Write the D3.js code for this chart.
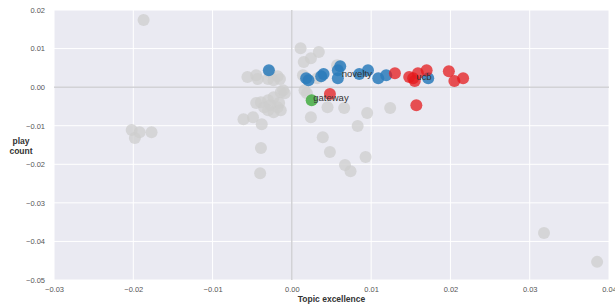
<!DOCTYPE html>
<html>
<head>
<meta charset="utf-8">
<script src="https://cdn.jsdelivr.net/npm/d3@7"></script>
<style>
  body { margin: 0; background: #fff; }
  text { font-family: "Liberation Sans", Arial, sans-serif; }
</style>
</head>
<body>
<script>
// [topic excellence, play count]
var grayPoints = [
  [-0.0187, 0.0174], [-0.0202, -0.0111], [-0.0192, -0.0117], [-0.0198, -0.0132], [-0.0177, -0.0117],
  [-0.0056, 0.0026], [-0.0045, 0.0031], [-0.0043, 0.0021], [-0.0030, 0.0021], [-0.0018, 0.0028],
  [-0.0015, 0.0021], [-0.0023, 0.0018], [-0.0028, 0.0039], [-0.0011, -0.0008], [-0.0009, -0.0016],
  [-0.0014, -0.0013], [-0.0023, -0.0026], [-0.0030, -0.0034], [-0.0039, -0.0039], [-0.0045, -0.0041],
  [-0.0035, -0.0052], [-0.0027, -0.0047], [-0.0018, -0.0052], [-0.0016, -0.0041], [-0.0023, -0.0065],
  [-0.0014, -0.0060], [-0.0030, -0.0060], [-0.0061, -0.0083], [-0.0049, -0.0078], [-0.0038, -0.0096],
  [-0.0039, -0.0158], [-0.0040, -0.0223], [0.0011, 0.0101], [0.0034, 0.0091], [0.0024, 0.0075],
  [0.0015, 0.0065], [0.0057, 0.0057], [0.0014, 0.0031], [0.0032, 0.0023], [0.0016, -0.0008],
  [0.0019, -0.0016], [0.0045, -0.0052], [0.0066, -0.0054], [0.0024, -0.0078], [0.0095, -0.0067],
  [0.0124, -0.0054], [0.0083, -0.0101], [0.0039, -0.0130], [0.0048, -0.0168], [0.0093, -0.0181],
  [0.0067, -0.0202], [0.0074, -0.0218], [0.0318, -0.0378], [0.0385, -0.0453]
];
var noveltyPoints = [
  [-0.0029, 0.0044], [0.0018, 0.0023], [0.0021, 0.0018], [0.0037, 0.0028], [0.0040, 0.0034],
  [0.0058, 0.0044], [0.0061, 0.0054], [0.0058, 0.0023], [0.0085, 0.0034], [0.0096, 0.0044],
  [0.0109, 0.0023], [0.0119, 0.0031], [0.0172, 0.0023]
];
var ucbPoints = [
  [0.0048, -0.0018], [0.0130, 0.0036], [0.0148, 0.0026], [0.0153, 0.0023], [0.0155, 0.0016],
  [0.0159, 0.0036], [0.0170, 0.0044], [0.0198, 0.0041], [0.0205, 0.0016], [0.0216, 0.0023],
  [0.0157, -0.0047]
];
var gatewayPoints = [[0.0025, -0.0034]];

var labels = [
  {text: "novelty", x: 0.0063, y: 0.0036},
  {text: "ucb", x: 0.0157, y: 0.0026},
  {text: "gateway", x: 0.0027, y: -0.0028}
];

var xTicks = [-0.03, -0.02, -0.01, 0.00, 0.01, 0.02, 0.03, 0.04];
var yTicks = [0.02, 0.01, 0.00, -0.01, -0.02, -0.03, -0.04, -0.05];

var width = 615, height = 305;
var margin = {top: 10, right: 6, bottom: 25, left: 54};

var svg = d3.select("body").append("svg").attr("width", width).attr("height", height);

var x = d3.scaleLinear().domain([-0.03, 0.04]).range([margin.left, width - margin.right]);
var y = d3.scaleLinear().domain([-0.05, 0.02]).range([height - margin.bottom, margin.top]);

var fmt = function(d){ return d3.format(".2f")(d).replace("-", "\u2212"); };

svg.append("rect")
   .attr("x", x(-0.03)).attr("y", y(0.02))
   .attr("width", x(0.04) - x(-0.03)).attr("height", y(-0.05) - y(0.02))
   .attr("fill", "#eaeaf2");

// grid
svg.selectAll("line.vgrid").data(xTicks).enter().append("line")
   .attr("class", "vgrid")
   .attr("x1", function(d){ return x(d); }).attr("x2", function(d){ return x(d); })
   .attr("y1", y(0.02)).attr("y2", y(-0.05))
   .attr("stroke", "#fff").attr("stroke-width", 1);
svg.selectAll("line.hgrid").data(yTicks).enter().append("line")
   .attr("class", "hgrid")
   .attr("y1", function(d){ return y(d); }).attr("y2", function(d){ return y(d); })
   .attr("x1", x(-0.03)).attr("x2", x(0.04))
   .attr("stroke", "#fff").attr("stroke-width", 1);

// zero lines
svg.append("line").attr("x1", x(0)).attr("x2", x(0)).attr("y1", y(0.02)).attr("y2", y(-0.05))
   .attr("stroke", "#bdbdc2").attr("stroke-width", 1);
svg.append("line").attr("y1", y(0)).attr("y2", y(0)).attr("x1", x(-0.03)).attr("x2", x(0.04))
   .attr("stroke", "#bdbdc2").attr("stroke-width", 1);

// axes
var xAxis = svg.append("g").attr("transform", "translate(0," + (height - margin.bottom) + ")")
   .call(d3.axisBottom(x).tickValues(xTicks).tickFormat(fmt).tickSize(0).tickPadding(7));
var yAxis = svg.append("g").attr("transform", "translate(" + margin.left + ",0)")
   .call(d3.axisLeft(y).tickValues(yTicks).tickFormat(fmt).tickSize(0).tickPadding(9));
[xAxis, yAxis].forEach(function(a){
  a.select(".domain").remove();
  a.selectAll("text").attr("fill", "#555").style("font-size", "7.5px")
   .style("font-family", "'Liberation Sans', Arial, sans-serif");
});

function dots(data, cls, fill, op){
  svg.selectAll("circle." + cls).data(data).enter().append("circle")
     .attr("class", cls)
     .attr("cx", function(d){ return x(d[0]); })
     .attr("cy", function(d){ return y(d[1]); })
     .attr("r", 6)
     .attr("fill", fill)
     .attr("fill-opacity", op);
}
dots(grayPoints, "gray", "#cdcdcd", 0.75);
dots(noveltyPoints, "novelty", "#2a7bbb", 0.85);
dots(ucbPoints, "ucb", "#e41a1c", 0.75);
dots(gatewayPoints, "gateway", "#4daf4a", 0.9);

svg.selectAll("text.lbl").data(labels).enter().append("text")
   .attr("class", "lbl")
   .attr("x", function(d){ return x(d.x); })
   .attr("y", function(d){ return y(d.y); })
   .attr("dy", "0.35em")
   .attr("fill", "#333")
   .style("font-size", "9.5px")
   .text(function(d){ return d.text; });

svg.append("text")
   .attr("x", (x(-0.03) + x(0.04)) / 2).attr("y", 302)
   .attr("text-anchor", "middle").attr("font-weight", "bold")
   .attr("fill", "#333").style("font-size", "8.5px")
   .text("Topic excellence");

var yl = svg.append("text").attr("text-anchor", "middle").attr("font-weight", "bold")
   .attr("fill", "#333").style("font-size", "8.5px");
yl.append("tspan").attr("x", 21).attr("y", 144).text("play");
yl.append("tspan").attr("x", 21).attr("y", 154).text("count");
</script>
</body>
</html>
